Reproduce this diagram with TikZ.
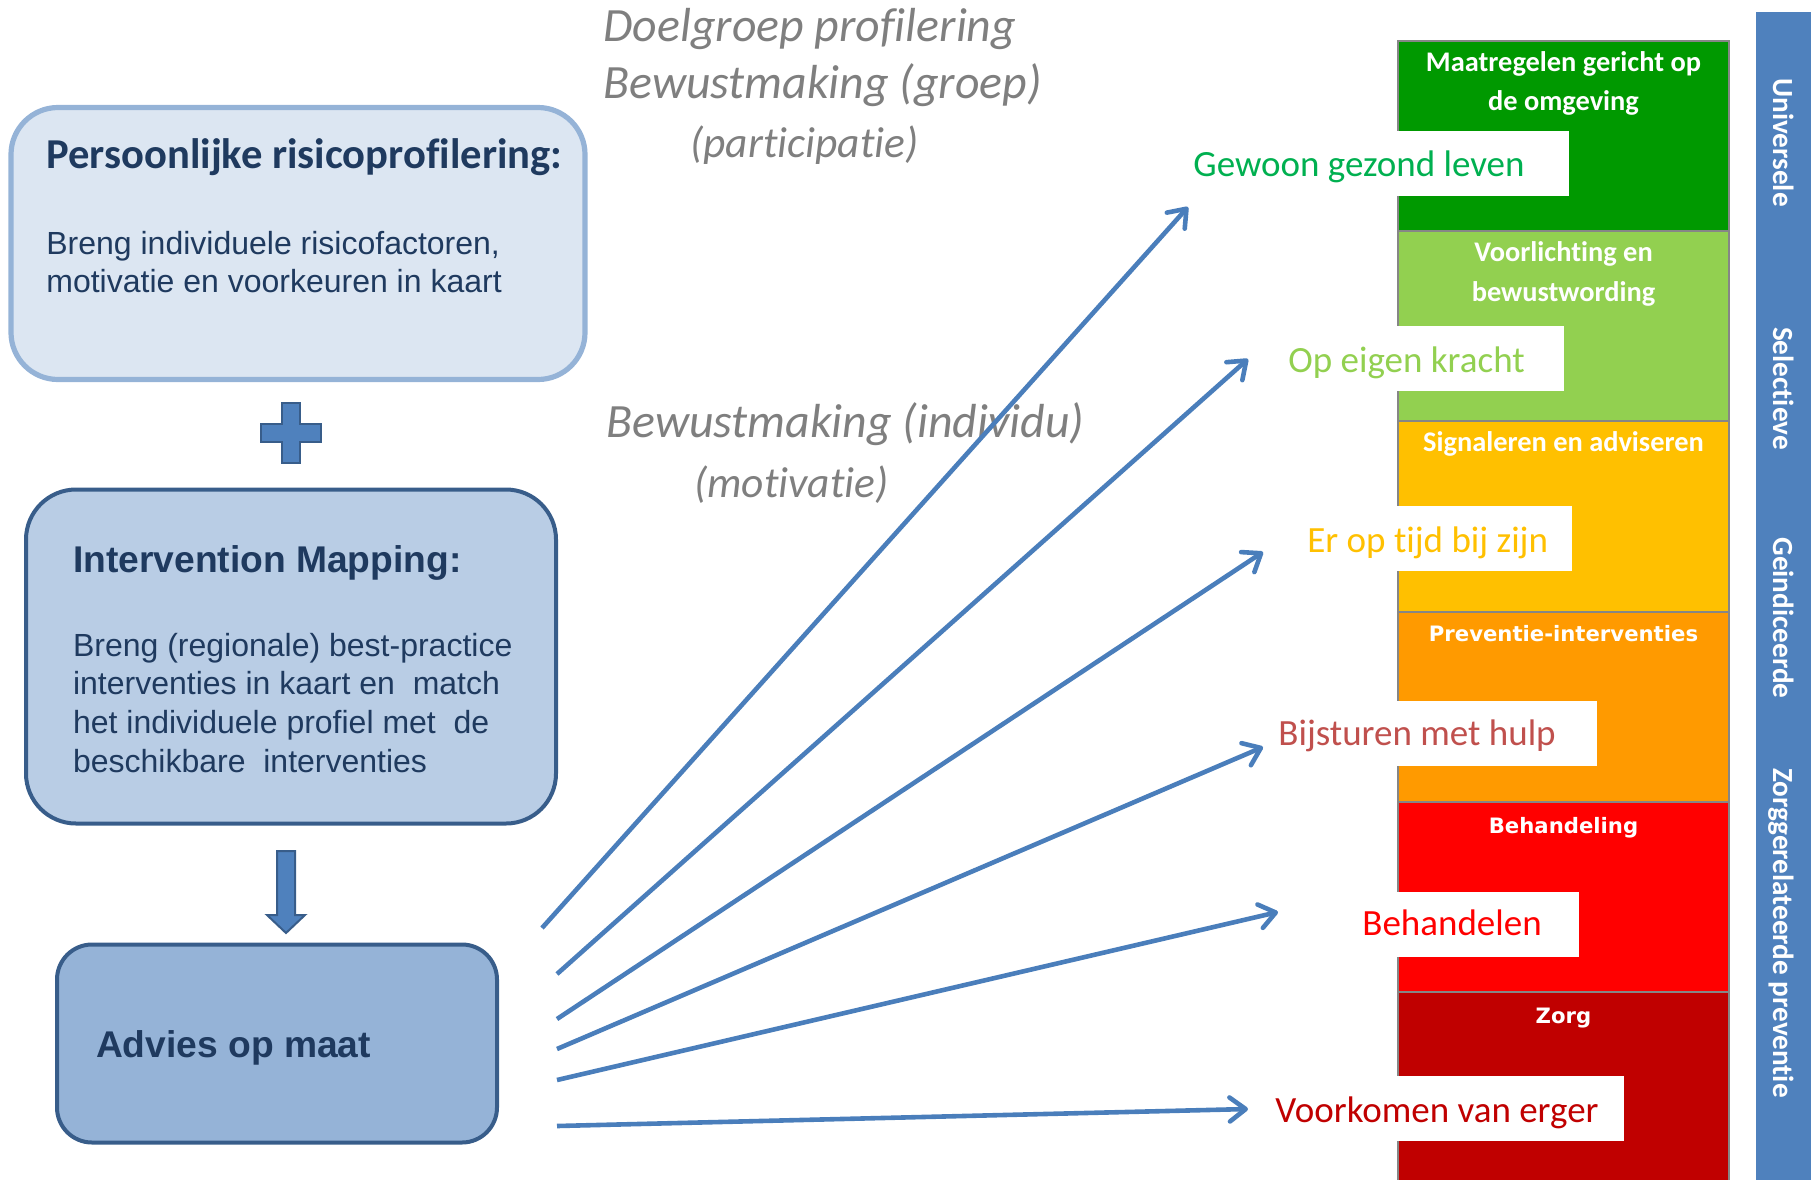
\documentclass[tikz,border=0pt]{standalone}
\usepackage{fontspec}
\setmainfont{Liberation Sans}
\newfontfamily\calibri{Carlito}[Ligatures=NoCommon]
\newfontfamily\verd{DejaVu Sans}
\usetikzlibrary{arrows.meta}

\definecolor{navy}{HTML}{1F3A5F}
\definecolor{pale}{HTML}{DCE6F2}
\definecolor{paleedge}{HTML}{95B3D7}
\definecolor{midfill}{HTML}{B9CDE5}
\definecolor{darkedge}{HTML}{385D8A}
\definecolor{accent}{HTML}{4F81BD}
\definecolor{arrowblue}{HTML}{4A7EBB}
\definecolor{greytxt}{HTML}{7F7F7F}
\definecolor{bandgreen}{HTML}{009900}
\definecolor{bandlime}{HTML}{92D050}
\definecolor{bandyellow}{HTML}{FFC000}
\definecolor{bandorange}{HTML}{FF9A00}
\definecolor{bandred}{HTML}{FF0000}
\definecolor{bandmaroon}{HTML}{C00000}
\definecolor{lblgreen}{HTML}{00B050}
\definecolor{lblbrick}{HTML}{C0504D}
\definecolor{bandedge}{HTML}{868686}

\tikzset{
  txt/.style={inner sep=0pt, anchor=base west},
  bodytxt/.style={txt, text=navy, font=\fontsize{16}{19}\selectfont},
  headtxt/.style={txt, text=navy, font=\bfseries\fontsize{18.6}{22}\selectfont},
  notetxt/.style={txt, text=greytxt, font=\calibri\itshape\fontsize{23.9}{28}\selectfont},
  subnotetxt/.style={txt, text=greytxt, font=\calibri\itshape\fontsize{21.7}{26}\selectfont},
  bandtxt/.style={inner sep=0pt, anchor=base, text=white, font=\calibri\bfseries\fontsize{14.2}{17}\selectfont},
  bandtxtw/.style={inner sep=0pt, anchor=base, text=white, font=\verd\bfseries\fontsize{10.6}{13}\selectfont},
  band/.style={draw=bandedge, line width=1.25pt},
  lbltxt/.style={txt, font=\calibri\fontsize{18.5}{22}\selectfont},
  sidetxt/.style={inner sep=0pt, anchor=base, rotate=-90, text=white, font=\calibri\bfseries\fontsize{14.6}{17}\selectfont},
  flow/.style={draw=arrowblue, line width=2.3pt, -{Straight Barb[length=8pt,width=12pt,round]}},
  blockshape/.style={fill=accent, draw=darkedge, line width=1pt, line join=miter},
}

\begin{document}
\begin{tikzpicture}[x=0.5pt,y=-0.5pt]
\useasboundingbox (0,0) rectangle (1820,1179);

% --- left column: the three process boxes ---
\node[draw=paleedge, fill=pale, line width=2.6pt, rounded corners=23.5pt,
      minimum width=287pt, minimum height=136pt, inner sep=0pt] (risk) at (298,243.5) {};
\node[txt, text=navy, font=\calibri\bfseries\fontsize{21.3}{25}\selectfont] (riskT) at (46,168) {Persoonlijke risicoprofilering:};
\node[bodytxt] (riskL1) at (46,254) {Breng individuele risicofactoren,};
\node[bodytxt] (riskL2) at (46,292) {motivatie en voorkeuren in kaart};

% plus sign
\filldraw[blockshape] (282,403) -- (300,403) -- (300,424) -- (321,424) -- (321,442) -- (300,442)
  -- (300,463) -- (282,463) -- (282,442) -- (261,442) -- (261,424) -- (282,424) -- cycle;

\node[draw=darkedge, fill=midfill, line width=2pt, rounded corners=25pt,
      minimum width=265pt, minimum height=167pt, inner sep=0pt] (mapping) at (291,656.5) {};
\node[headtxt] (mapT) at (72.7,572) {Intervention Mapping:};
\node[bodytxt] (mapL1) at (72.7,656) {Breng (regionale) best-practice};
\node[bodytxt] (mapL2) at (72.7,694.7) {interventies in kaart en\ \ match};
\node[bodytxt] (mapL3) at (72.7,733.4) {het individuele profiel met\ \ de};
\node[bodytxt] (mapL4) at (72.7,772) {beschikbare\ \ interventies};

% block arrow down
\filldraw[blockshape] (277,851) -- (295,851) -- (295,915) -- (305,915) -- (286,933) -- (267,915) -- (277,915) -- cycle;

\node[draw=darkedge, fill=paleedge, line width=2pt, rounded corners=17.5pt,
      minimum width=220pt, minimum height=99pt, inner sep=0pt] (advies) at (277,1043.5) {};
\node[headtxt] (adviesT) at (95.7,1057) {Advies op maat};

% --- grey annotations ---
\node[notetxt] (n1) at (603,41) {Doelgroep profilering};
\node[notetxt] (n2) at (603,98) {Bewustmaking (groep)};
\node[subnotetxt] (n3) at (690,157) {(participatie)};
\node[notetxt] (n4) at (606,437) {Bewustmaking (individu)};
\node[subnotetxt] (n5) at (694,497) {(motivatie)};

% --- prevention bands ---
\draw[band, fill=bandgreen]  (1398,41)  rectangle (1729,231);
\draw[band, fill=bandlime]   (1398,231) rectangle (1729,421);
\draw[band, fill=bandyellow] (1398,421) rectangle (1729,612);
\draw[band, fill=bandorange] (1398,612) rectangle (1729,802);
\draw[band, fill=bandred]    (1398,802) rectangle (1729,992);
\draw[band, fill=bandmaroon] (1398,992) rectangle (1729,1190);

\node[bandtxt] (b1a) at (1563.5,71.7) {Maatregelen gericht op};
\node[bandtxt] (b1b) at (1563.5,110.7) {de omgeving};
\node[bandtxt] (b2a) at (1563.5,261.7) {Voorlichting en};
\node[bandtxt] (b2b) at (1563.5,301.7) {bewustwording};
\node[bandtxt] (b3) at (1563.5,451.7) {Signaleren en adviseren};
\node[bandtxtw] (b4) at (1563.5,641.5) {Preventie-interventies};
\node[bandtxtw] (b5) at (1563.5,833) {Behandeling};
\node[bandtxtw] (b6) at (1563.5,1023) {Zorg};

% --- outcome labels on white tags ---
\fill[white] (1183,131)  rectangle (1569,196);
\fill[white] (1278,326)  rectangle (1564,391);
\fill[white] (1297,506)  rectangle (1572,571);
\fill[white] (1268,701)  rectangle (1597,766);
\fill[white] (1352,892)  rectangle (1579,957);
\fill[white] (1265,1076) rectangle (1624,1141);

\node[lbltxt, text=lblgreen]   (lab1) at (1193,176)  {Gewoon gezond leven};
\node[lbltxt, text=bandlime]   (lab2) at (1288,372)  {Op eigen kracht};
\node[lbltxt, text=bandyellow] (lab3) at (1307,552)  {Er op tijd bij zijn};
\node[lbltxt, text=lblbrick]   (lab4) at (1278,745)  {Bijsturen met hulp};
\node[lbltxt, text=bandred]    (lab5) at (1362,935)  {Behandelen};
\node[lbltxt, text=bandmaroon] (lab6) at (1275,1122) {Voorkomen van erger};

% --- side bar with prevention types ---
\fill[accent] (1756,12) rectangle (1811,1190);
\node[sidetxt] (s1) at (1773,142.5) {Universele};
\node[sidetxt] (s2) at (1773,388.5) {Selectieve};
\node[sidetxt] (s3) at (1773,618) {Geindiceerde};
\node[sidetxt] (s4) at (1773,933) {Zorggerelateerde preventie};

% --- arrows from the advice box to the outcomes ---
\coordinate (a1) at (542,928);  \coordinate (t1) at (1188,207);
\coordinate (a2) at (557,974);  \coordinate (t2) at (1248,359);
\coordinate (a3) at (557,1019); \coordinate (t3) at (1263,552);
\coordinate (a4) at (557,1049); \coordinate (t4) at (1263,747);
\coordinate (a5) at (557,1080); \coordinate (t5) at (1278,912);
\coordinate (a6) at (557,1126); \coordinate (t6) at (1248,1109);
\foreach \i in {1,...,6} { \draw[flow] (a\i) -- (t\i); }
\end{tikzpicture}
\end{document}
